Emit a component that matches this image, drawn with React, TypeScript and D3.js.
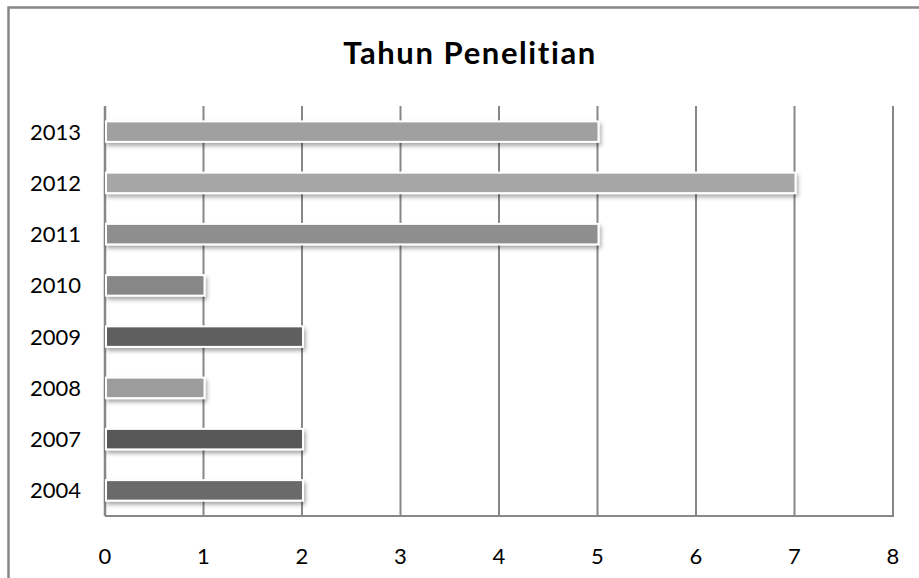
import React, { useEffect, useRef } from "react";
import * as d3 from "d3";

const categories = ["2013", "2012", "2011", "2010", "2009", "2008", "2007", "2004"];
const values = [5, 7, 5, 1, 2, 1, 2, 2];
const barColors = ["#a0a0a0", "#a6a6a6", "#8e8e8e", "#878787", "#5e5e5e", "#9c9c9c", "#595959", "#6b6b6b"];
const xTicks = [0, 1, 2, 3, 4, 5, 6, 7, 8];
const title = "Tahun Penelitian";

export default function App() {
  const ref = useRef<SVGSVGElement>(null);

  useEffect(() => {
    const svg = d3.select(ref.current);
    svg.selectAll("*").remove();
    const W = 919, H = 578;
    const left = 105, right = 893, top = 106, bottom = 516;
    const font = "Lato, 'Open Sans', sans-serif";
    const grid = "#878787";

    const defs = svg.append("defs");
    const f = defs.append("filter").attr("id", "shadow").attr("x", "-10%").attr("y", "-50%").attr("width", "120%").attr("height", "250%");
    f.append("feDropShadow").attr("dx", 1.5).attr("dy", 3).attr("stdDeviation", 2).attr("flood-color", "#000").attr("flood-opacity", 0.35);

    svg.append("rect").attr("width", W).attr("height", H).attr("fill", "#fff");
    svg.append("rect").attr("x", 8.5).attr("y", 7.5).attr("width", 1000).attr("height", 1000)
      .attr("fill", "none").attr("stroke", grid).attr("stroke-width", 2.5);

    svg.append("text").attr("x", 470).attr("y", 64).attr("text-anchor", "middle")
      .attr("font-family", font).attr("font-weight", 700).attr("font-size", 31)
      .attr("letter-spacing", 1.6).attr("fill", "#000")
      .text(title);

    const x = d3.scaleLinear().domain([0, 8]).range([left, right]);
    const y = d3.scaleBand().domain(categories).range([top, bottom]).paddingInner(0.6).paddingOuter(0.3);

    // gridlines
    svg.append("g").selectAll("line").data(xTicks).join("line")
      .attr("x1", d => x(d)).attr("x2", d => x(d)).attr("y1", top).attr("y2", bottom)
      .attr("stroke", grid).attr("stroke-width", 2);

    // axes
    svg.append("line").attr("x1", left).attr("x2", right + 1).attr("y1", bottom).attr("y2", bottom)
      .attr("stroke", grid).attr("stroke-width", 2);
    svg.append("line").attr("x1", left).attr("x2", left).attr("y1", top).attr("y2", bottom)
      .attr("stroke", grid).attr("stroke-width", 2.5);

    // bars
    svg.append("g").selectAll("rect").data(categories).join("rect")
      .attr("x", left + 1)
      .attr("y", d => y(d)!)
      .attr("width", (d, i) => x(values[i]) - left)
      .attr("height", y.bandwidth())
      .attr("fill", (d, i) => barColors[i])
      .attr("stroke", "#fff").attr("stroke-width", 2)
      .attr("filter", "url(#shadow)");

    // y labels
    svg.append("g").selectAll("text").data(categories).join("text")
      .attr("x", 81).attr("y", d => y(d)! + y.bandwidth() / 2)
      .attr("dy", "0.36em").attr("text-anchor", "end")
      .attr("font-family", font).attr("font-size", 22).attr("fill", "#000")
      .text(d => d);

    // x labels
    svg.append("g").selectAll("text").data(xTicks).join("text")
      .attr("x", d => x(d)).attr("y", 564).attr("text-anchor", "middle")
      .attr("font-family", font).attr("font-size", 22).attr("fill", "#000")
      .text(d => String(d));
  }, []);

  return (
    <svg ref={ref} width={919} height={578}
      style={{ position: "absolute", left: 0, top: 0, display: "block" }} />
  );
}
